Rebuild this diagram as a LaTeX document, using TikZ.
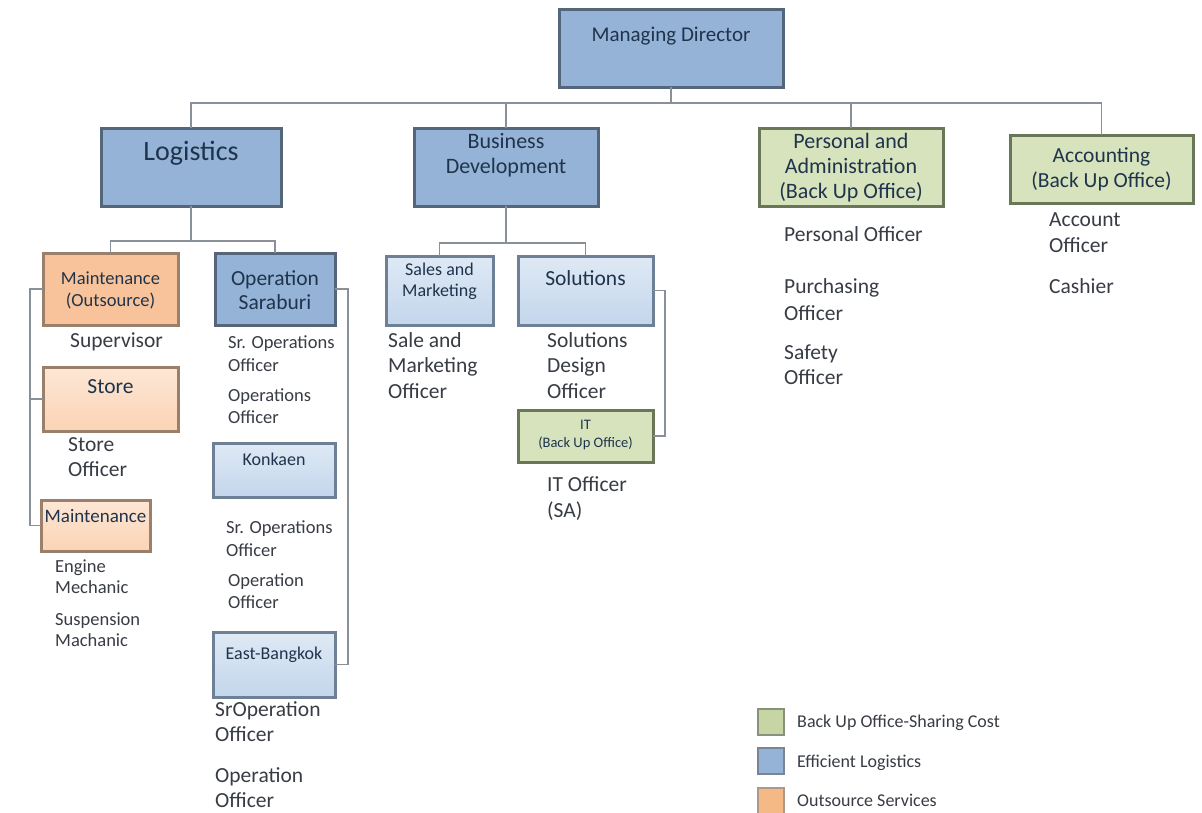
\documentclass[tikz,border=0pt]{standalone}
\usepackage{fontspec}
\setmainfont{Carlito}
\usetikzlibrary{calc}

\definecolor{linegray}{HTML}{8A9098}
\definecolor{txtcol}{HTML}{383C44}
\definecolor{titlecol}{HTML}{1F344C}
\definecolor{blueedge}{HTML}{56667A}
\definecolor{bluefill}{HTML}{95B3D7}
\definecolor{lbluetop}{HTML}{DFE9F5}
\definecolor{lbluebot}{HTML}{C3D6EC}
\definecolor{lblueedge}{HTML}{6E8096}
\definecolor{greenfill}{HTML}{D6E3BC}
\definecolor{greenedge}{HTML}{6A7658}
\definecolor{orgfill}{HTML}{F8C39A}
\definecolor{orgedge}{HTML}{9A7F6A}
\definecolor{lorgtop}{HTML}{FDE7D6}
\definecolor{lorgbot}{HTML}{FBD3B4}
\definecolor{leggreen}{HTML}{C7D5A4}
\definecolor{legorange}{HTML}{F5B985}

\newcommand\setfs[2]{\fontsize{#1}{#2}\selectfont}

\begin{document}
\begin{tikzpicture}[x=1pt,y=-1pt,
  ln/.style={draw=linegray, line width=1.6},
  bx/.style={rectangle, inner sep=0, outer sep=0, line width=3},
  dbluebox/.style={bx, draw=blueedge, fill=bluefill},
  lbluebox/.style={bx, draw=lblueedge, top color=lbluetop, bottom color=lbluebot},
  greenbox/.style={bx, draw=greenedge, fill=greenfill},
  orgbox/.style={bx, draw=orgedge, fill=orgfill},
  lorgbox/.style={bx, draw=orgedge, top color=lorgtop, bottom color=lorgbot},
  ttl/.style={text=titlecol, align=center, inner sep=0, anchor=north},
  txt/.style={text=txtcol, align=left, inner sep=0, anchor=north west},
  legtxt/.style={text=txtcol, inner sep=0, anchor=base west, font=\setfs{18}{22}},
  legbox/.style={rectangle, inner sep=0, line width=2, minimum width=26, minimum height=26}
]
\useasboundingbox[fill=white] (0,0) rectangle (1202,812);

% ---------- boxes ----------
\node[dbluebox, minimum width=224, minimum height=78] (md)  at (671,48) {};
\node[dbluebox, minimum width=180, minimum height=78] (log) at (191,167) {};
\node[dbluebox, minimum width=184, minimum height=78] (bd)  at (506,167) {};
\node[greenbox, minimum width=184, minimum height=78] (pa)  at (851,167) {};
\node[greenbox, minimum width=183, minimum height=68] (acc) at (1101.5,169) {};

\node[orgbox,  minimum width=135, minimum height=72] (mo) at (110.5,289) {};
\node[lorgbox, minimum width=135, minimum height=64] (st) at (110.5,399) {};
\node[lorgbox, minimum width=109, minimum height=51] (mn) at (95.5,525.5) {};

\node[dbluebox, minimum width=120, minimum height=72] (os) at (275,289) {};
\node[lbluebox, minimum width=122, minimum height=54] (kk) at (274,470) {};
\node[lbluebox, minimum width=122, minimum height=65] (eb) at (274,664.5) {};

\node[lbluebox, minimum width=107, minimum height=69] (sm)  at (439.5,290.5) {};
\node[lbluebox, minimum width=135, minimum height=69] (sol) at (585.5,290.5) {};
\node[greenbox, minimum width=135, minimum height=52] (it)  at (585.5,436) {};

% ---------- box titles ----------
\node[ttl, font=\setfs{21}{25}] (mdt) at (671,27) {Managing Director};
\node[ttl, font=\setfs{28}{32}] (logt) at (191,141) {Logistics};
\node[ttl, font=\setfs{22}{25}] (bdt) at (506,133.5) {Business\\Development};
\node[ttl, font=\setfs{22}{25}] (pat) at (851,133.5) {Personal and\\Administration\\(Back Up Office)};
\node[ttl, font=\setfs{21.5}{25}] (acct) at (1101.5,147) {Accounting\\(Back Up Office)};

\node[ttl, font=\setfs{18.5}{22}] (mot) at (110.5,272) {Maintenance\\(Outsource)};
\node[ttl, font=\setfs{21.5}{24}] (stt) at (110.5,379) {Store};
\node[ttl, font=\setfs{19}{22}] (mnt) at (95.5,509) {Maintenance};

\node[ttl, font=\setfs{21.5}{24}] (ost) at (275,270) {Operation\\Saraburi};
\node[ttl, font=\setfs{18}{22}] (kkt) at (274,453) {Konkaen};
\node[ttl, font=\setfs{18}{22}] (ebt) at (274,647) {East-Bangkok};

\node[ttl, font=\setfs{18}{21}] (smt) at (439.5,263) {Sales and\\Marketing};
\node[ttl, font=\setfs{21.5}{24}] (solt) at (585.5,270) {Solutions};
\node[ttl, font=\setfs{14.5}{18}] (itt) at (585.5,420) {IT\\(Back Up Office)};

% ---------- staff lists ----------
\node[txt, font=\setfs{21.5}{25}] (sup) at (70,332) {Supervisor};
\node[txt, font=\setfs{21.5}{25}] (sto) at (68,437) {Store\\Officer};
\node[txt, font=\setfs{18.5}{21}] (eng) at (55,560) {Engine\\Mechanic};
\node[txt, font=\setfs{18.5}{21}] (sus) at (55,613) {Suspension\\Machanic};

\node[txt, font=\setfs{18.5}{23}] (so1) at (228,336) {Sr. Operations\\Officer};
\node[txt, font=\setfs{18.5}{22}] (oo1) at (228,389) {Operations\\Officer};
\node[txt, font=\setfs{18.5}{23}] (so2) at (226,520) {Sr. Operations\\Officer};
\node[txt, font=\setfs{18.5}{22}] (oo2) at (228,573) {Operation\\Officer};
\node[txt, font=\setfs{21.5}{25}] (so3) at (215,701) {SrOperation\\Officer};
\node[txt, font=\setfs{21.5}{25}] (oo3) at (215,767) {Operation\\Officer};

\node[txt, font=\setfs{21.5}{25.5}] (smo) at (388,332) {Sale and\\Marketing\\Officer};
\node[txt, font=\setfs{21.5}{25.5}] (sdo) at (547,332) {Solutions\\Design\\Officer};
\node[txt, font=\setfs{21.5}{26}] (ito) at (547,476) {IT Officer\\(SA)};

\node[txt, font=\setfs{21.5}{27}] (pso) at (784,226) {Personal Officer};
\node[txt, font=\setfs{21.5}{27}] (puo) at (784,278) {Purchasing\\Officer};
\node[txt, font=\setfs{21.5}{25}] (sfo) at (784,345) {Safety\\Officer};

\node[txt, font=\setfs{21.5}{26}] (aco) at (1049,212) {Account\\Officer};
\node[txt, font=\setfs{21.5}{26}] (cas) at (1049,278) {Cashier};

% ---------- connectors ----------
\coordinate (bus)   at (671,103);
\coordinate (lbus)  at (191,241);
\coordinate (bdbus) at (506,243);
\coordinate (lrail) at (30,0);
\coordinate (rrail) at (348,0);
\coordinate (srail) at (665,0);

\draw[ln] (md.south) -- (bus);
\draw[ln] (log.north) |- (bus);
\draw[ln] (bd.north) |- (bus);
\draw[ln] (pa.north) |- (bus);
\draw[ln] (acc.north) |- (bus);

\draw[ln] (log.south) -- (lbus);
\draw[ln] (mo.north) |- (lbus);
\draw[ln] (os.north) |- (lbus);

\draw[ln] (mo.west) -- (mo.west -| lrail) |- (mn.west);
\draw[ln] (st.west) -- (st.west -| lrail);
\draw[ln] (os.east) -- (os.east -| rrail) |- (eb.east);

\draw[ln] (bd.south) -- (bdbus);
\draw[ln] (sm.north) |- (bdbus);
\draw[ln] (sol.north) |- (bdbus);
\draw[ln] (sol.east) -- (sol.east -| srail) |- (it.east);

% ---------- legend ----------
\node[legbox, draw=greenedge!80, fill=leggreen] (lg1) at (771,721.5) {};
\node[legbox, draw=blueedge!80, fill=bluefill] (lg2) at (771,761) {};
\node[legbox, draw=orgedge!80, fill=legorange] (lg3) at (771,800.5) {};
\node[legtxt] (lt1) at (797,727.5) {Back Up Office-Sharing Cost};
\node[legtxt] (lt2) at (797,767) {Efficient Logistics};
\node[legtxt] (lt3) at (797,806) {Outsource Services};
\end{tikzpicture}
\end{document}
